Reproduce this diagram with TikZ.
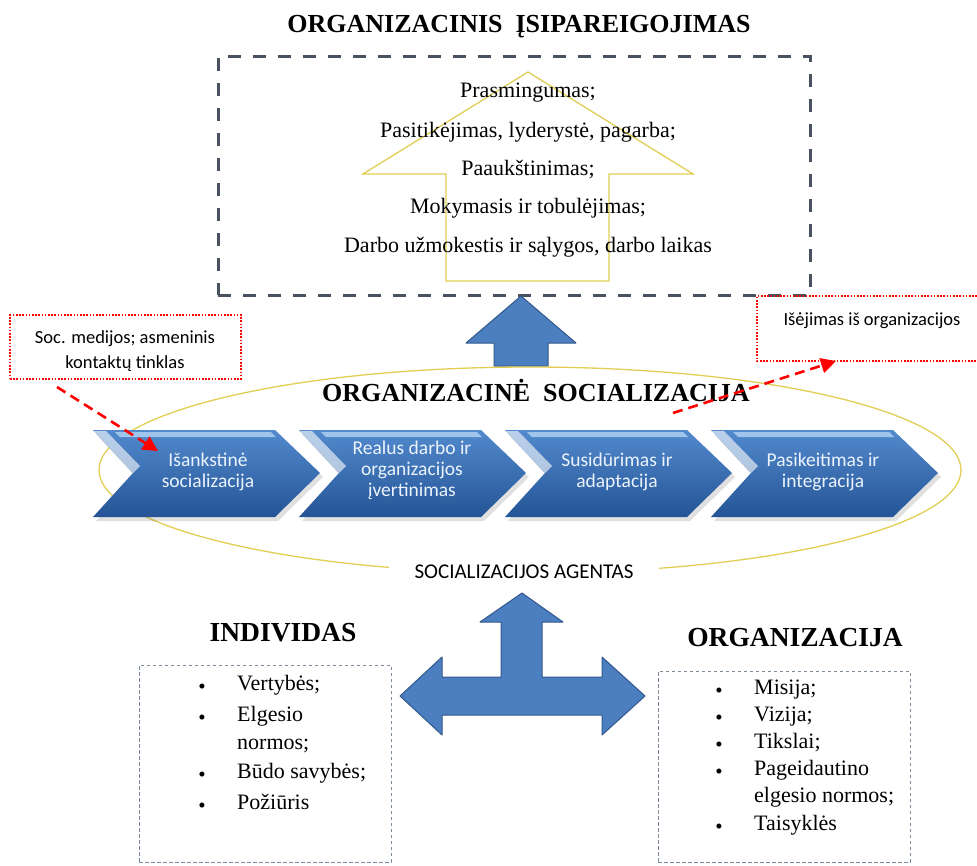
\documentclass[tikz,border=0pt]{standalone}
\usepackage{fontspec}
\setmainfont{Liberation Serif}
\newfontfamily\calib{Carlito}
\usetikzlibrary{arrows.meta}
\definecolor{slate}{RGB}{72,82,96}
\definecolor{ylw}{RGB}{226,206,84}
\definecolor{ablue}{RGB}{76,127,191}
\definecolor{ablueline}{RGB}{50,88,140}
\definecolor{chtop}{RGB}{82,138,205}
\definecolor{chbot}{RGB}{36,84,150}
\definecolor{chtxt}{RGB}{236,243,252}
\definecolor{chstrip}{RGB}{168,204,240}
\definecolor{boxgray}{RGB}{125,138,156}
\definecolor{redc}{RGB}{255,0,0}
\begin{document}
\begin{tikzpicture}[x=1pt,y=-1pt,
  title/.style={font=\fontsize{26}{29}\selectfont\bfseries, inner sep=0pt},
  btitle/.style={font=\fontsize{27.5}{30}\selectfont\bfseries, inner sep=0pt},
  body/.style={font=\fontsize{22}{26}\selectfont, inner sep=0pt},
  li/.style={font=\fontsize{22}{25}\selectfont, inner sep=0pt, anchor=mid west},
  bul/.style={font=\fontsize{21}{25}\selectfont, inner sep=0pt},
  sanslbl/.style={font=\calib\fontsize{18.5}{25}\selectfont, inner sep=0pt, align=center},
  chtext/.style={font=\calib\fontsize{19.5}{21}\selectfont, text=chtxt, inner sep=0pt, align=center},
  reddot/.style={draw=redc, line width=1.6pt, dash pattern=on 1.6pt off 1.6pt},
  redarrow/.style={draw=redc, line width=2.6pt, dash pattern=on 10pt off 6pt, -{Triangle[length=15pt,width=15pt]}},
  listbox/.style={draw=boxgray, line width=0.9pt, dash pattern=on 3.5pt off 2.5pt},
  blockarrow/.style={draw=ablueline, fill=ablue, line width=1pt, line join=round}
]
\useasboundingbox[fill=white] (0,0) rectangle (977,865);

% ---------- top block ----------
\node[title] (toptitle) at (519,27) {ORGANIZACINIS\hspace{13pt}ĮSIPAREIGOJIMAS};
\node[draw=slate, line width=3pt, dash pattern=on 13pt off 12pt,
      minimum width=592pt, minimum height=239pt, inner sep=0pt] (topbox) at (514,175.5) {};
\draw[ylw, line width=1.3pt, line join=miter]
  (528,72) -- (693,174) -- (609,174) -- (609,281) -- (446,281) -- (446,174) -- (363,174) -- cycle;
\node[body] (t1) at (528,93)  {Prasmingumas;};
\node[body] (t2) at (528,132) {Pasitikėjimas, lyderystė, pagarba;};
\node[body] (t3) at (528,170) {Paaukštinimas;};
\node[body] (t4) at (528,208) {Mokymasis ir tobulėjimas;};
\node[body] (t5) at (528,247) {Darbo užmokestis ir sąlygos, darbo laikas};

% blue up arrow
\draw[blockarrow] (521,296) -- (576,343) -- (548,343) -- (548,366) -- (494,366) -- (494,343) -- (466,343) -- cycle;

% ---------- socialization ellipse ----------
\draw[ylw, line width=1.3pt] (530,470) ellipse [x radius=431, y radius=103];
\node[title] (soctitle) at (536,390) {ORGANIZACINĖ\hspace{13pt}SOCIALIZACIJA};

% chevrons
\foreach \x in {93,299,505,711}{
  \fill[black, opacity=0.12] (\x+3,434) -- (\x+185,434) -- (\x+230,477) -- (\x+185,521) -- (\x+3,521) -- (\x+43,477) -- cycle;
  \shade[top color=chtop, bottom color=chbot]
    (\x,430) -- (\x+182,430) -- (\x+227,473) -- (\x+182,517) -- (\x,517) -- (\x+40,473) -- cycle;
  \fill[chstrip, opacity=0.9] (\x+22,432) -- (\x+178,432) -- (\x+183,437) -- (\x+27,437) -- cycle;
  \fill[white, opacity=0.6] (\x+1,431) -- (\x+13,431) -- (\x+47,466) -- (\x+40,473) -- cycle;
}
\node[chtext] (c1) at (208,472) {Išankstinė\\socializacija};
\node[chtext] (c2) at (412,470) {Realus darbo ir\\organizacijos\\įvertinimas};
\node[chtext] (c3) at (617,472) {Susidūrimas ir\\adaptacija};
\node[chtext] (c4) at (823,472) {Pasikeitimas ir\\integracija};

\node[font=\calib\fontsize{21}{25}\selectfont, fill=white, inner xsep=26pt, inner ysep=5pt] (agent) at (524,572) {SOCIALIZACIJOS AGENTAS};

% ---------- red notes ----------
\node[reddot, minimum width=231pt, minimum height=64pt, inner sep=0pt] (smbox) at (125.5,347) {};
\node[sanslbl] (smtext) at (125,351) {Soc. medijos; asmeninis\\kontaktų tinklas};
\draw[reddot] (977,296) -- (757,296) -- (757,361) -- (977,361);
\node[sanslbl] (exittext) at (872,321) {Išėjimas iš organizacijos};
\coordinate (a1s) at (57,387);
\coordinate (a1e) at (158,451);
\coordinate (a2s) at (673,413);
\coordinate (a2e) at (836,361);
\draw[redarrow] (a1s) -- (a1e);
\draw[redarrow] (a2s) -- (a2e);

% ---------- bottom ----------
\draw[blockarrow] (522,593) -- (563,622) -- (542,622) -- (542,677) -- (602,677) -- (602,657) -- (645,696)
  -- (602,735) -- (602,715) -- (442,715) -- (442,735) -- (400,696) -- (442,657) -- (442,677)
  -- (501,677) -- (501,622) -- (480,622) -- cycle;

\node[btitle] (indtitle) at (283,633) {INDIVIDAS};
\node[btitle] (orgtitle) at (795,638) {ORGANIZACIJA};

\node[listbox, minimum width=252pt, minimum height=197pt, inner sep=0pt] (indbox) at (265,763.5) {};
\node[listbox, minimum width=252pt, minimum height=191pt, inner sep=0pt] (orgbox) at (784,766.5) {};

\node[bul] (ib1) at (202,689) {•};
\node[li]  (il1) at (237,688) {Vertybės;};
\node[bul] (ib2) at (202,720) {•};
\node[li]  (il2) at (237,719) {Elgesio};
\node[li]  (il3) at (237,747) {normos;};
\node[bul] (ib3) at (202,777) {•};
\node[li]  (il4) at (237,776) {Būdo savybės;};
\node[bul] (ib4) at (202,808) {•};
\node[li]  (il5) at (237,807) {Požiūris};

\node[bul] (ob1) at (719,693) {•};
\node[li]  (ol1) at (754,692) {Misija;};
\node[bul] (ob2) at (719,720) {•};
\node[li]  (ol2) at (754,719) {Vizija;};
\node[bul] (ob3) at (719,747) {•};
\node[li]  (ol3) at (754,746) {Tikslai;};
\node[bul] (ob4) at (719,774) {•};
\node[li]  (ol4) at (754,773) {Pageidautino};
\node[li]  (ol5) at (754,800) {elgesio normos;};
\node[bul] (ob5) at (719,829) {•};
\node[li]  (ol6) at (754,828) {Taisyklės};
\end{tikzpicture}
\end{document}
